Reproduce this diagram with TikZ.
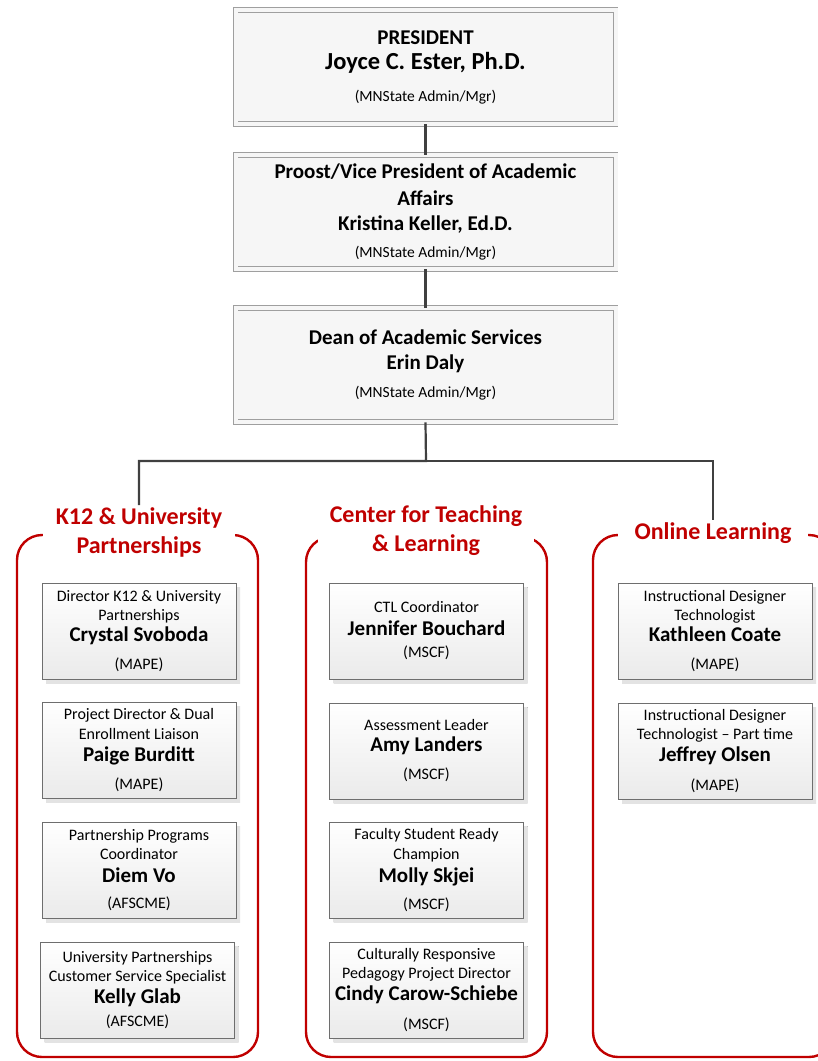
\documentclass[tikz,border=0pt]{standalone}
\usepackage{fontspec}
\setmainfont{Carlito}
\usetikzlibrary{shadows}

\definecolor{chartred}{HTML}{C00000}
\definecolor{linkgray}{HTML}{404040}
\definecolor{edgegray}{HTML}{6E6E6E}

\newcommand{\rolefont}{\normalfont\fontsize{16}{19.5}\selectfont}
\newcommand{\namefont}{\fontsize{21}{19.5}\selectfont\bfseries}
\newcommand{\headfont}{\fontsize{21}{25}\selectfont\bfseries}
\newcommand{\headnote}{\normalfont\fontsize{15.5}{25}\selectfont}

\tikzset{
  headbox/.style={draw=gray!75, double=gray!7, double distance=4pt, line width=0.8pt,
    fill=gray!7, minimum width=380pt, minimum height=114pt, align=center, inner sep=2pt,
    font=\fontsize{15.5}{25}\selectfont},
  staffbox/.style={draw=edgegray, line width=0.8pt, top color=white, bottom color=gray!16,
    minimum width=194pt, minimum height=96pt, align=center, inner sep=2pt,
    font=\fontsize{16}{19.5}\selectfont,
    drop shadow={shadow xshift=4pt, shadow yshift=-4pt, top color=gray!22, bottom color=gray!22, opacity=1}},
  grouptitle/.style={fill=white, text=chartred, font=\fontsize{24}{29}\selectfont\bfseries,
    align=center, inner ysep=2pt},
  groupframe/.style={draw=chartred, line width=2.4pt, rounded corners=25pt},
  link/.style={draw=linkgray, line width=2.2pt},
}

\begin{document}
\begin{tikzpicture}[x=1pt, y=-1pt]
    \useasboundingbox (0,0) rectangle (818,1061);

    % Vertici: presidente, provost, dean
    \node[headbox] (president) at (425.5,67) {\headfont PRESIDENT\\
        \fontsize{24.5}{25}\selectfont\bfseries Joyce C. Ester, Ph.D.\\[7pt]
        \headnote (MNState Admin/Mgr)};
    \node[headbox] (provost) at (425.5,212) {\headfont Proost/Vice President of Academic\\[2pt]
        \headfont Affairs\\ \headfont Kristina Keller, Ed.D.\\[2pt] \headnote (MNState Admin/Mgr)};
    \node[headbox] (dean) at (425.5,365) {\headfont Dean of Academic Services\\
        \headfont Erin Daly\\[3pt] \headnote (MNState Admin/Mgr)};

    % Cornici dei gruppi
    \draw[groupframe] (17,535) rectangle (258,1057);
    \draw[groupframe] (306,537) rectangle (547,1057);
    \draw[groupframe] (593,535) rectangle (834,1057);

    % Titoli dei gruppi
    \node[grouptitle, inner xsep=12.5pt] (k12title) at (139,532) {K12 \& University\\ Partnerships};
    \node[grouptitle, inner xsep=12pt] (ctltitle) at (426,531) {Center for Teaching\\ \& Learning};
    \node[grouptitle, inner xsep=17pt] (onltitle) at (713,533) {Online Learning};

    % K12 & University Partnerships
    \node[staffbox] (svoboda) at (139,631) {\rolefont Director K12 \& University\\ \rolefont Partnerships\\[1.5pt]
        \namefont Crystal Svoboda\\[8.5pt] \rolefont (MAPE)};
    \node[staffbox] (burditt) at (139,750) {\rolefont Project Director \& Dual\\ \rolefont Enrollment Liaison\\[2.5pt]
        \namefont Paige Burditt\\[8.5pt] \rolefont (MAPE)};
    \node[staffbox] (vo) at (139,870) {\rolefont Partnership Programs\\ \rolefont Coordinator\\[3.5pt]
        \namefont Diem Vo\\[6.5pt] \rolefont (AFSCME)};
    \node[staffbox] (glab) at (137.5,990) {\rolefont University Partnerships\\ \rolefont Customer Service Specialist\\[2.5pt]
        \namefont Kelly Glab\\[3.5pt] \rolefont (AFSCME)};

    % Center for Teaching & Learning
    \node[staffbox] (bouchard) at (426.5,631) {\rolefont CTL Coordinator\\[3.5pt]
        \namefont Jennifer Bouchard\\[2.5pt] \rolefont (MSCF)};
    \node[staffbox] (landers) at (426.5,751) {\rolefont Assessment Leader\\[1.5pt]
        \namefont Amy Landers\\[8.5pt] \rolefont (MSCF)};
    \node[staffbox] (skjei) at (426.5,870) {\rolefont Faculty Student Ready\\ \rolefont Champion\\[3.5pt]
        \namefont Molly Skjei\\[7.5pt] \rolefont (MSCF)};
    \node[staffbox] (carow) at (426.5,990) {\rolefont Culturally Responsive\\ \rolefont Pedagogy Project Director\\[2.5pt]
        \namefont Cindy Carow-Schiebe\\[9.5pt] \rolefont (MSCF)};

    % Online Learning
    \node[staffbox] (coate) at (715,631) {\rolefont Instructional Designer\\ \rolefont Technologist\\[1.5pt]
        \namefont Kathleen Coate\\[8.5pt] \rolefont (MAPE)};
    \node[staffbox] (olsen) at (715,751) {\rolefont Instructional Designer\\ \rolefont Technologist -- Part time\\[2.5pt]
        \namefont Jeffrey Olsen\\[9.5pt] \rolefont (MAPE)};

    % Collegamenti
    \coordinate (bus) at (426,461);
    \draw[link] (president) -- (provost);
    \draw[link] (provost) -- (dean);
    \draw[link] (dean.south) -- (bus) -| (k12title.north);
    \draw[link] (bus) -| (onltitle.north);
\end{tikzpicture}
\end{document}
